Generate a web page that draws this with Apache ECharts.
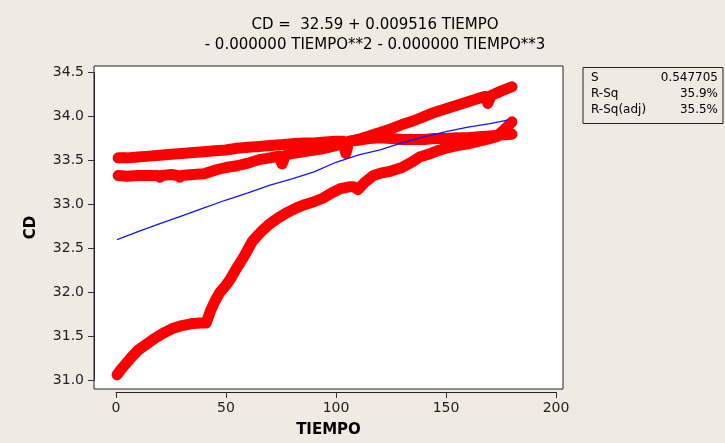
<!DOCTYPE html>
<html>
<head>
<meta charset="utf-8">
<script src="https://cdn.jsdelivr.net/npm/echarts@6/dist/echarts.min.js"></script>
<style>
  html, body { margin: 0; padding: 0; background: #EFEBE2; }
  #chart { width: 725px; height: 443px; }
</style>
</head>
<body>
<div id="chart"></div>
<script>
// Regression title and fit statistics
const titleLines = ['CD =  32.59 + 0.009516 TIEMPO', '- 0.000000 TIEMPO**2 - 0.000000 TIEMPO**3'];
const statNames = ['S', 'R-Sq', 'R-Sq(adj)'];
const statValues = ['0.547705', '35.9%', '35.5%'];

// Axis ticks
const xTicks = [0, 50, 100, 150, 200];
const yTicks = [31.0, 31.5, 32.0, 32.5, 33.0, 33.5, 34.0, 34.5];

// Observed CD, run starting near 33.5
const tiempoA = [1, 5, 10, 15, 20, 25, 30, 35, 40, 45, 50, 55, 60, 65, 70, 75, 80, 85, 90, 95, 100, 103, 104.5, 106, 110, 115, 120, 125, 130, 135, 140, 145, 150, 155, 160, 165, 170, 175, 180];
const cdA = [33.53, 33.53, 33.54, 33.55, 33.56, 33.57, 33.58, 33.59, 33.60, 33.61, 33.62, 33.64, 33.65, 33.66, 33.67, 33.68, 33.69, 33.70, 33.70, 33.71, 33.72, 33.72, 33.58, 33.72, 33.73, 33.75, 33.76, 33.75, 33.74, 33.74, 33.74, 33.75, 33.75, 33.76, 33.76, 33.77, 33.78, 33.79, 33.80];

// Observed CD, run starting near 33.3
const tiempoB = [1, 5, 10, 15, 19, 20, 21, 25, 28, 29, 30, 35, 40, 45, 50, 55, 60, 65, 70, 74, 75.5, 77, 80, 85, 90, 95, 100, 105, 110, 115, 120, 125, 130, 135, 140, 145, 150, 155, 160, 165, 168, 169, 170.5, 175, 180];
const cdB = [33.33, 33.32, 33.33, 33.33, 33.33, 33.31, 33.33, 33.34, 33.33, 33.31, 33.33, 33.34, 33.35, 33.39, 33.42, 33.44, 33.47, 33.51, 33.53, 33.55, 33.46, 33.56, 33.58, 33.60, 33.62, 33.64, 33.67, 33.71, 33.74, 33.78, 33.82, 33.86, 33.91, 33.95, 34.00, 34.05, 34.09, 34.13, 34.17, 34.21, 34.23, 34.15, 34.24, 34.29, 34.34];

// Observed CD, run starting near 31.1
const tiempoC = [0.5, 2, 4, 7, 10, 14, 18, 22, 26, 30, 34, 38, 41, 43, 45, 47, 50, 52, 55, 58, 62, 66, 70, 74, 78, 82, 86, 90, 94, 98, 102, 106, 108, 110, 113, 117, 121, 125, 130, 135, 138, 142, 146, 150, 155, 160, 165, 170, 173, 176, 180];
const cdC = [31.06, 31.11, 31.17, 31.26, 31.34, 31.41, 31.48, 31.54, 31.59, 31.62, 31.64, 31.65, 31.65, 31.79, 31.90, 31.99, 32.08, 32.15, 32.28, 32.40, 32.58, 32.69, 32.78, 32.85, 32.91, 32.96, 33.00, 33.03, 33.07, 33.13, 33.18, 33.20, 33.20, 33.17, 33.25, 33.33, 33.36, 33.38, 33.42, 33.49, 33.54, 33.57, 33.61, 33.64, 33.67, 33.69, 33.72, 33.75, 33.77, 33.84, 33.94];

// Fitted cubic regression curve
const fitTiempo = [0.5, 10, 20, 30, 40, 50, 60, 70, 80, 90, 100, 110, 120, 130, 140, 150, 160, 170, 178];
const fitCD = [32.60, 32.69, 32.78, 32.87, 32.96, 33.05, 33.13, 33.22, 33.29, 33.37, 33.48, 33.56, 33.62, 33.70, 33.77, 33.83, 33.88, 33.92, 33.96];

const FONT = 'DejaVu Sans';
const pairs = (xs, ys) => xs.map((x, i) => [x, ys[i]]);

const frame = { left: 94, top: 66, width: 469, height: 326 };
const plot = { left: 116, top: 72.7, width: 440, height: 307.3 };

const redTrack = (xs, ys) => ({
  type: 'line',
  xAxisIndex: 1, yAxisIndex: 1,
  data: pairs(xs, ys),
  showSymbol: false,
  lineStyle: { color: '#FF0000', width: 11, cap: 'round', join: 'round' },
  z: 2, silent: true
});

const chart = echarts.init(document.getElementById('chart'), null, { renderer: 'canvas' });
chart.setOption({
  animation: false,
  backgroundColor: '#EFEBE2',
  textStyle: { fontFamily: FONT },
  title: {
    text: titleLines.join('\n'),
    left: 370, top: 10, textAlign: 'center',
    textStyle: { fontFamily: FONT, fontSize: 15, fontWeight: 'normal', color: '#000', lineHeight: 20 }
  },
  grid: [
    Object.assign({ show: true, backgroundColor: '#FFFFFF', borderColor: '#222', borderWidth: 1 }, frame),
    Object.assign({}, plot)
  ],
  xAxis: [
    {
      gridIndex: 0, type: 'value', min: 0, max: 1,
      axisLine: { show: false }, axisTick: { show: false }, axisLabel: { show: false }, splitLine: { show: false },
      name: 'TIEMPO', nameLocation: 'middle', nameGap: 34,
      nameTextStyle: { fontFamily: FONT, fontSize: 15, fontWeight: 'bold', color: '#000' }
    },
    {
      gridIndex: 1, type: 'value', min: xTicks[0], max: xTicks[xTicks.length - 1], interval: xTicks[1] - xTicks[0],
      position: 'bottom', offset: 12,
      axisLine: { show: true, onZero: false, lineStyle: { color: '#222', width: 1 } },
      axisTick: { show: true, inside: false, length: 6, lineStyle: { color: '#333' } },
      axisLabel: { margin: 9, fontFamily: FONT, fontSize: 14, color: '#222' },
      splitLine: { show: false }
    }
  ],
  yAxis: [
    {
      gridIndex: 0, type: 'value', min: 0, max: 1,
      axisLine: { show: false }, axisTick: { show: false }, axisLabel: { show: false }, splitLine: { show: false },
      name: 'CD', nameLocation: 'middle', nameGap: 55, nameRotate: 90,
      nameTextStyle: { fontFamily: FONT, fontSize: 15, fontWeight: 'bold', color: '#000' }
    },
    {
      gridIndex: 1, type: 'value', min: yTicks[0], max: yTicks[yTicks.length - 1], interval: yTicks[1] - yTicks[0],
      position: 'left', offset: 22,
      axisLine: { show: true, onZero: false, lineStyle: { color: '#222', width: 1 } },
      axisTick: { show: true, inside: false, length: 6, lineStyle: { color: '#333' } },
      axisLabel: { margin: 10, fontFamily: FONT, fontSize: 14, color: '#222', formatter: v => v.toFixed(1) },
      splitLine: { show: false }
    }
  ],
  graphic: [
    { type: 'rect', shape: { x: 583, y: 67.5, width: 140, height: 56 }, style: { fill: 'none', stroke: '#222', lineWidth: 1 } },
    ...statNames.map((s, i) => ({
      type: 'text', x: 591, y: 78 + i * 16,
      style: { text: s, font: '12px ' + FONT, fill: '#000', textAlign: 'left', textVerticalAlign: 'middle' }
    })),
    ...statValues.map((s, i) => ({
      type: 'text', x: 718, y: 78 + i * 16,
      style: { text: s, font: '12px ' + FONT, fill: '#000', textAlign: 'right', textVerticalAlign: 'middle' }
    }))
  ],
  series: [
    redTrack(tiempoA, cdA),
    redTrack(tiempoB, cdB),
    redTrack(tiempoC, cdC),
    {
      type: 'line',
      xAxisIndex: 1, yAxisIndex: 1,
      data: pairs(fitTiempo, fitCD),
      showSymbol: false,
      lineStyle: { color: '#1414F5', width: 1.3 },
      z: 3, silent: true
    }
  ]
});
</script>
</body>
</html>
